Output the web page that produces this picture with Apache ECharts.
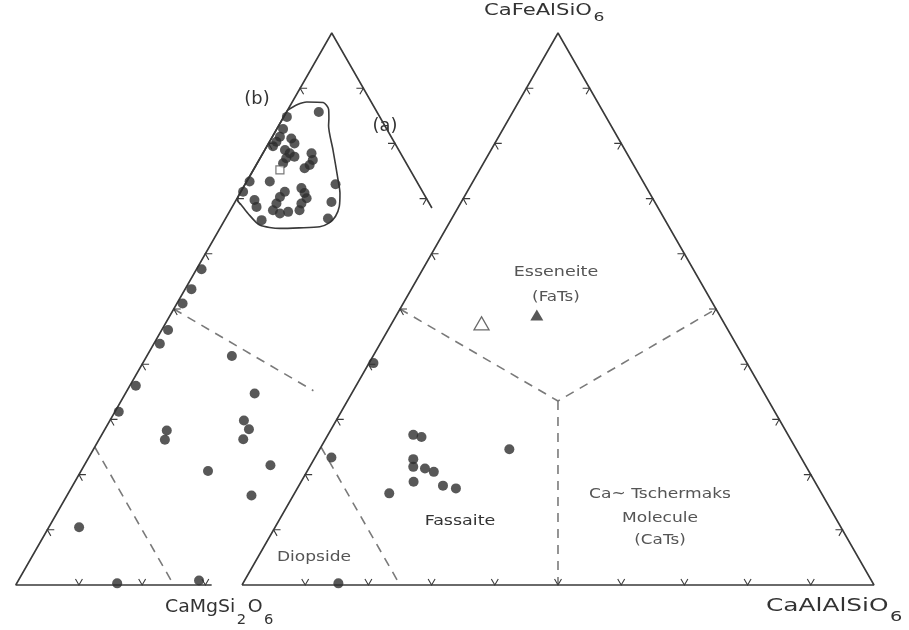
<!DOCTYPE html>
<html><head><meta charset="utf-8">
<script src="https://cdn.jsdelivr.net/npm/echarts@6/dist/echarts.min.js"></script>
<style>html,body{margin:0;padding:0;background:#fff}#c{width:909px;height:630px}</style>
</head><body><div id="c"></div>
<script>
// ---- DATA: ternary compositions as [CaTs %, FaTs %]  (CaMgSi2O6 % = 100 - CaTs - FaTs)
// Diagram (a)
const aDots = [[0.7,40.2],[13.5,27.2],[15.0,26.8],[15.7,22.8],[16.4,21.4],[18.4,21.1],[20.1,20.5],
  [17.8,18.7],[15.0,16.6],[22.8,18.0],[25.1,17.5],[30.0,24.6],[2.6,23.1],[15.1,0.3]];
const aOpenTriangle = [[14.2,47.4]];
const aFilledTriangle = [[22.2,48.9]];
// Diagram (b)
const bDots = [[0.8,57.2],[1.0,53.6],[0.9,51.0],[1.0,46.2],[0.95,43.7],[13.45,41.5],[0.95,36.1],[20.45,34.7],
  [0.6,31.4],[9.9,28.0],[10.45,26.3],[21.2,29.8],[22.8,28.2],[22.8,26.4],[20.1,20.65],[29.45,21.7],
  [29.2,16.2],[4.8,10.45],[15.9,0.3],[28.6,0.8],
  // cluster near the apex
  [0.5,84.8],[5.1,85.7],[1.0,82.6],[1.2,81.2],[1.1,80.3],[0.95,79.5],[3.15,80.9],[4.1,80.0],[3.2,78.8],
  [4.25,78.2],[5.3,77.6],[4.15,77.3],[4.1,76.4],[7.7,78.2],[8.5,77.0],[8.45,76.1],[7.95,75.5],
  [0.45,73.1],[3.65,73.1],[0.35,71.25],[14.3,72.6],[6.95,71.25],[6.65,70.3],[6.7,69.1],[6.75,67.9],
  [8.15,67.3],[9.3,67.6],[10.95,67.9],[9.25,71.9],[10.2,71.0],[11.0,70.05],[10.65,69.1],[2.9,69.75],
  [3.85,68.5],[5.85,66.1],[15.25,69.4],[16.2,66.4]];
const bOpenSquare = [[4.2,75.2]];
const bOutline = [[0,86.0],[1.0,87.0],[2.3,87.5],[4.95,87.4],[6.4,86.2],[7.3,84.5],[7.9,83.2],[10.8,78.8],[14.3,73.4],[15.8,71.0],
  [16.9,68.6],[17.2,66.8],[16.8,65.6],[15.65,64.9],[12.5,64.7],[9.5,64.6],[6.0,65.2],[3.1,67.3],[1.2,68.9],[0.3,69.6],
  [0,70.5],[0,74],[0,78],[0,82],[0,86.0]];
// Field boundaries [CaTs, FaTs]
const aBoundaries = [
  [[0,50],[33.33,33.33],[50,50]],
  [[33.33,33.33],[50,0]],
  [[0,25],[25,0]]
];
const bBoundaries = [
  [[0,50],[29.5,35.2]],
  [[0,25],[25,0]]
];
const tickSteps = [10,20,30,40,50,60,70,80,90];
const bBottomTicks = [10,20,30];
const bRightTicks = [70,80,90];

// ---- geometry helpers
const OX_A = 0, OX_B = -35.8;     // horizontal offset of each diagram
function P(ox, cats, fats){ return [ox + cats + fats/2, fats]; }

const tickData = [];
const d = 1.1;
function addBottom(ox,t){ tickData.push([...P(ox,t,d),...P(ox,t,0),...P(ox,t-d,d)]); }
function addLeft(ox,f){ tickData.push([...P(ox,d,f),...P(ox,0,f),...P(ox,d,f-d)]); }
function addRight(ox,f){ tickData.push([...P(ox,100-f-d,f),...P(ox,100-f,f),...P(ox,100-f,f-d)]); }
tickSteps.forEach(t=>{ addBottom(OX_A,t); addLeft(OX_A,t); addRight(OX_A,t); addLeft(OX_B,t); });
bBottomTicks.forEach(t=>addBottom(OX_B,t));
bRightTicks.forEach(f=>addRight(OX_B,f));

const LINE = '#3a3a3a', DASH = '#7a7a7a', DOT = '#2e2e2e', TXT = '#333', TXT2 = '#555';

const series = [];
series.push({type:'line', data:[P(OX_A,0,0),P(OX_A,100,0),P(OX_A,0,100),P(OX_A,0,0)],
  symbol:'none', lineStyle:{color:LINE,width:1.6}, z:2});
series.push({type:'line', data:[P(OX_B,31,0),P(OX_B,0,0),P(OX_B,0,100),P(OX_B,31.7,68.3)],
  symbol:'none', lineStyle:{color:LINE,width:1.6}, z:2});
aBoundaries.forEach(b=>series.push({type:'line', data:b.map(p=>P(OX_A,p[0],p[1])), symbol:'none',
  lineStyle:{color:DASH,width:1.6,type:[9,7]}, z:1}));
bBoundaries.forEach(b=>series.push({type:'line', data:b.map(p=>P(OX_B,p[0],p[1])), symbol:'none',
  lineStyle:{color:DASH,width:1.6,type:[9,7]}, z:1}));
series.push({type:'line', data:bOutline.map(p=>P(OX_B,p[0],p[1])), symbol:'none', smooth:0.25,
  lineStyle:{color:LINE,width:1.6}, z:2});
series.push({type:'custom', data:tickData, encode:{x:[0,2,4],y:[1,3,5]}, z:3,
  renderItem:function(params, api){
    const p1 = api.coord([api.value(0),api.value(1)]);
    const p0 = api.coord([api.value(2),api.value(3)]);
    const p2 = api.coord([api.value(4),api.value(5)]);
    return {type:'polyline', shape:{points:[p1,p0,p2]}, style:{stroke:LINE,lineWidth:1.1,fill:null}};
  }});
series.push({type:'scatter', data:aDots.map(p=>P(OX_A,p[0],p[1])), symbol:'circle', symbolSize:10,
  itemStyle:{color:DOT}, z:5});
series.push({type:'scatter', data:bDots.map(p=>P(OX_B,p[0],p[1])), symbol:'circle', symbolSize:10,
  itemStyle:{color:DOT}, z:5});
series.push({type:'scatter', data:aOpenTriangle.map(p=>P(OX_A,p[0],p[1])), symbol:'triangle', symbolSize:[15,13],
  itemStyle:{color:'#fff', borderColor:'#444', borderWidth:1.3}, z:5});
series.push({type:'scatter', data:aFilledTriangle.map(p=>P(OX_A,p[0],p[1])), symbol:'triangle', symbolSize:[13,11],
  itemStyle:{color:DOT}, z:5});
series.push({type:'scatter', data:bOpenSquare.map(p=>P(OX_B,p[0],p[1])), symbol:'rect', symbolSize:[8,8],
  itemStyle:{color:'#fff', borderColor:'#555', borderWidth:1.2}, z:6});

// ---- text
const mctx = document.createElement('canvas').getContext('2d');
const FONT = '"DejaVu Sans"';
function formula(parts, left, cy, size, sx, subDy){
  const els = []; let x = left;
  parts.forEach(([txt, sub])=>{
    const fs = sub ? Math.round(size*0.8) : size;
    const font = fs + 'px ' + FONT;
    mctx.font = font;
    els.push({type:'text', x:x, y: sub ? cy + subDy : cy, scaleX:sx, silent:true,
      style:{text:txt, font:font, fill:TXT, align:'left', verticalAlign:'middle'}});
    x += mctx.measureText(txt).width*sx + 1.5;
  });
  return els;
}
function label(txt, cx, cy, size, sx, color){
  return {type:'text', x:cx, y:cy, scaleX:sx, silent:true,
    style:{text:txt, font:size+'px '+FONT, fill:color, align:'center', verticalAlign:'middle'}};
}
const graphic = [].concat(
  formula([['CaFeAlSiO',0],['6',1]], 484, 11, 16, 1.32, 7),
  formula([['CaMgSi',0],['2',1],['O',0],['6',1]], 165, 607, 18, 1.05, 13),
  formula([['CaAlAlSiO',0],['6',1]], 766, 606, 18, 1.38, 11),
  [label('(b)',257,100,17,1.05,TXT), label('(a)',385,127,17,1.05,TXT),
   label('Esseneite',556,272,14,1.25,TXT2), label('(FaTs)',556,297,14,1.2,TXT2),
   label('Ca~ Tschermaks',660,494,14,1.22,TXT2), label('Molecule',660,518,14,1.22,TXT2),
   label('(CaTs)',660,540,14,1.2,TXT2),
   label('Fassaite',460,521,14,1.25,TXT), label('Diopside',314,557,14,1.22,TXT2)]
);

const chart = echarts.init(document.getElementById('c'), null, {renderer:'canvas'});
chart.setOption({
  animation:false,
  backgroundColor:'#fff',
  grid:{left:1.84, right:3.4, top:5.4, bottom:17.4},
  xAxis:{type:'value', min:-38, max:105, show:false},
  yAxis:{type:'value', min:-5, max:105, show:false},
  series:series,
  graphic:graphic
});
</script></body></html>
